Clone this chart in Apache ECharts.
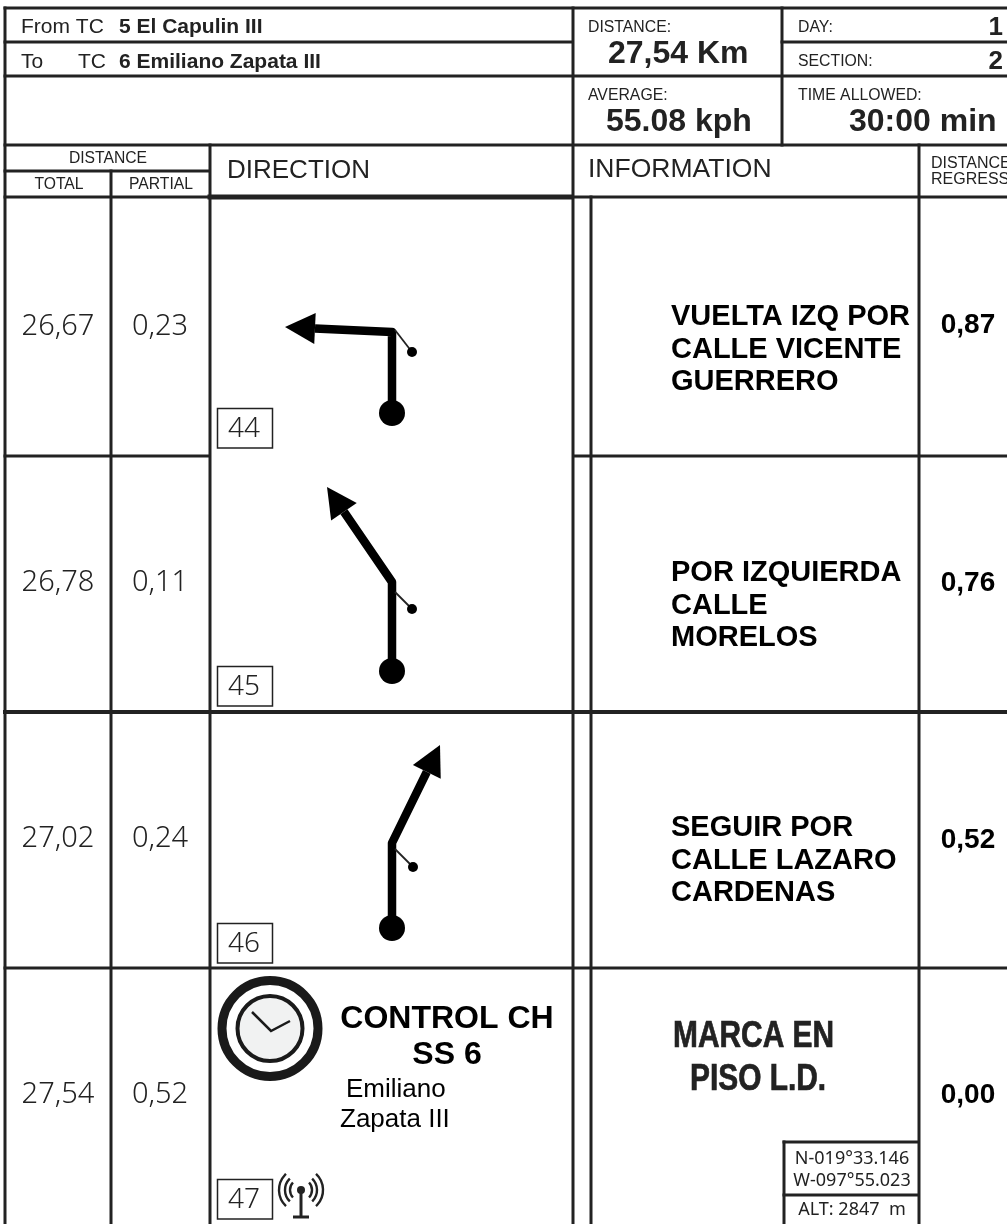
<!DOCTYPE html>
<html><head><meta charset="utf-8">
<style>html,body{margin:0;padding:0;background:#fff}#c{width:1007px;height:1224px}</style>
<script src="https://cdn.jsdelivr.net/npm/echarts@6/dist/echarts.min.js"></script>
</head><body><div id="c"></div>
<script>
// ---- chart values ----
var fromStage = ['From TC', '5 El Capulin III'];
var toStage = ['To', 'TC', '6 Emiliano Zapata III'];
var stageDistance = '27,54 Km';
var stageAverage = '55.08 kph';
var stageTime = '30:00 min';
var stageDay = '1';
var stageSection = '2';
var totals = ['26,67', '26,78', '27,02', '27,54'];
var partials = ['0,23', '0,11', '0,24', '0,52'];
var regress = ['0,87', '0,76', '0,52', '0,00'];
var boxNumbers = ['44', '45', '46', '47'];
var infoLines = [
  ['VUELTA IZQ POR', 'CALLE VICENTE', 'GUERRERO'],
  ['POR IZQUIERDA', 'CALLE', 'MORELOS'],
  ['SEGUIR POR', 'CALLE LAZARO', 'CARDENAS']
];
var exitVectors = [[-107, -5], [-65, -95], [48, -98]];
var stemLengths = [81, 89, 85];
var controlTitle = ['CONTROL CH', 'SS 6'];
var controlPlace = ['Emiliano', 'Zapata III'];
var controlInfo = ['MARCA EN', 'PISO L.D.'];
var gpsLines = ['N-019\u00B033.146', 'W-097\u00B055.023', 'ALT: 2847  m'];

// ---- layout (axis units equal page pixels) ----
var INK = '#222', BLACK = '#000';
var SANS = '"Liberation Sans", Arial, sans-serif', DIGIT = '"Noto Sans", sans-serif';
var colTotal = 58, colPartial = 160, colRegress = 968;
var rowMid = [327, 583, 839, 1095];
var regressMid = [325, 583, 840, 1095];
var infoTop = [317, 573, 828];
var boxTop = [408, 666, 923, 1179];
var stemX = 392, stemBase = [413, 671, 928];
var dotOffset = [[20, 20], [20, 27], [21, 24]];
var thinStart = [-2, 10, 6];

var rules = [
  [5,8,1007,8,3],[5,42,573,42,3],[782,42,1007,42,3],[5,76,1007,76,3],[5,145,1007,145,3],
  [5,171,210,171,3],[5,197,210,197,3],[210,197,573,197,5],[573,197,1007,197,3],
  [5,456,210,456,3],[573,456,1007,456,3],[5,712,1007,712,4],[5,968,1007,968,3],
  [5,8,5,1224,3],[111,171,111,1224,3],[210,145,210,1224,3],[573,8,573,1224,3],
  [591,197,591,1224,3],[782,8,782,145,3],[919,145,919,1224,3],
  [784,1142,919,1142,3],[784,1195,919,1195,3],[784,1142,784,1224,3]
];

var texts = [];
function T(x, y, text, size, opt) {
  opt = opt || {};
  texts.push({x:x, y:y, text:text, size:size, weight:opt.bold?'bold ':(opt.light?'350 ':''), align:opt.align||'left',
    font:opt.font||SANS, color:opt.color||INK, scaleX:opt.scaleX||1, heavy:opt.heavy});
}
T(21,27,fromStage[0],21); T(119,27,fromStage[1],21,{bold:1});
T(21,62,toStage[0],21); T(78,62,toStage[1],21); T(119,62,toStage[2],21,{bold:1});
T(588,28,'DISTANCE:',15.8); T(608,54,stageDistance,32,{bold:1});
T(798,28,'DAY:',15.8); T(1003,28,stageDay,26,{bold:1,align:'right'});
T(798,62,'SECTION:',15.8); T(1003,62,stageSection,26,{bold:1,align:'right'});
T(588,96,'AVERAGE:',15.8); T(606,122,stageAverage,32,{bold:1});
T(798,96,'TIME ALLOWED:',15.8); T(849,122,stageTime,32,{bold:1});
T(108,159,'DISTANCE',15.7,{align:'center'}); T(59,185,'TOTAL',15.7,{align:'center'}); T(161,185,'PARTIAL',15.7,{align:'center'});
T(227,171,'DIRECTION',26); T(588,170,'INFORMATION',26.5);
T(931,164,'DISTANCE',16); T(931,180,'REGRESS',16);
totals.forEach(function(v,i){ T(colTotal,rowMid[i],v,29,{font:DIGIT,align:'center',light:1}); });
partials.forEach(function(v,i){ T(colPartial,rowMid[i],v,29,{font:DIGIT,align:'center',light:1}); });
regress.forEach(function(v,i){ T(colRegress,regressMid[i],v,28,{bold:1,align:'center',color:BLACK}); });
boxNumbers.forEach(function(v,i){ T(244,boxTop[i]+21,v,28,{font:DIGIT,align:'center',light:1}); });
infoLines.forEach(function(lines,i){ lines.forEach(function(l,j){ T(671,infoTop[i]+j*32.5,l,29,{bold:1,color:BLACK}); }); });
T(447,1019,controlTitle[0],32,{bold:1,align:'center',color:BLACK}); T(447,1055,controlTitle[1],32,{bold:1,align:'center',color:BLACK});
T(346,1090,controlPlace[0],26,{color:BLACK}); T(340,1120,controlPlace[1],26,{color:BLACK});
T(673,1037,controlInfo[0],36,{bold:1,scaleX:0.83,heavy:1}); T(690,1080,controlInfo[1],36,{bold:1,scaleX:0.83,heavy:1});
T(852,1159,gpsLines[0],18,{font:DIGIT,align:'center'}); T(852,1181,gpsLines[1],18,{font:DIGIT,align:'center'}); T(852,1210,gpsLines[2],18,{font:DIGIT,align:'center'});

// ---- renderers ----
function pt(api,x,y){ return api.coord([x,y]); }

function renderRule(p, api){
  var r = rules[p.dataIndex], a = pt(api,r[0],r[1]), b = pt(api,r[2],r[3]);
  var e = r[4]/2;
  if (r[0]===r[2]) { a[1]-=e; b[1]+=e; } else if (r[0]!==573) { a[0]-=e; }
  return {type:'line', shape:{x1:a[0],y1:a[1],x2:b[0],y2:b[1]}, style:{stroke:INK,lineWidth:r[4],fill:null}};
}
function renderText(p, api){
  var t = texts[p.dataIndex], a = pt(api,t.x,t.y);
  var st = {x:0,y:0,text:t.text,fill:t.color,align:t.align,verticalAlign:'middle',font:t.weight+t.size+'px '+t.font};
  if (t.heavy) { st.stroke = t.color; st.lineWidth = 0.7; }
  return {type:'text', x:a[0], y:a[1], scaleX:t.scaleX, style:st};
}
function renderTulip(p, api){
  var i = p.dataIndex, v = exitVectors[i], len = stemLengths[i], base = stemBase[i], top = base-len;
  var tipX = stemX+v[0], tipY = top+v[1], m = Math.sqrt(v[0]*v[0]+v[1]*v[1]), ux=v[0]/m, uy=v[1]/m;
  var hx = tipX-ux*30, hy = tipY-uy*30, nx=-uy*15.5, ny=ux*15.5;
  var c = [];
  c.push({type:'polyline',shape:{points:[pt(api,stemX,base),pt(api,stemX,top),pt(api,hx,hy)]},
    style:{stroke:BLACK,lineWidth:8.5,fill:null,lineJoin:'round'}});
  c.push({type:'polygon',shape:{points:[pt(api,tipX,tipY),pt(api,hx+nx,hy+ny),pt(api,hx-nx,hy-ny)]},style:{fill:BLACK}});
  var b = pt(api,stemX,base);
  c.push({type:'circle',shape:{cx:b[0],cy:b[1],r:13},style:{fill:BLACK}});
  var d = dotOffset[i], dp = pt(api,stemX+d[0],top+d[1]);
  c.push({type:'line',shape:{x1:stemX+3,y1:top+thinStart[i],x2:dp[0],y2:dp[1]},style:{stroke:'#222',lineWidth:1.8}});
  c.push({type:'circle',shape:{cx:dp[0],cy:dp[1],r:5},style:{fill:BLACK}});
  return {type:'group',children:c};
}
function renderBox(p, api){
  var a = pt(api,217,boxTop[p.dataIndex]), b = pt(api,272,boxTop[p.dataIndex]+39.5);
  return {type:'rect',shape:{x:a[0]+.5,y:a[1]+.5,width:b[0]-a[0],height:b[1]-a[1]},style:{fill:'#fff',stroke:INK,lineWidth:1.5}};
}
function renderClock(p, api){
  var c = pt(api,270,1028.5);
  return {type:'group',children:[
    {type:'circle',shape:{cx:c[0],cy:c[1],r:48},style:{fill:'#fff',stroke:'#1a1a1a',lineWidth:9}},
    {type:'circle',shape:{cx:c[0],cy:c[1],r:32.5},style:{fill:'#f1f2f2',stroke:'#1a1a1a',lineWidth:4}},
    {type:'polyline',shape:{points:[pt(api,252,1012),pt(api,271,1031),pt(api,290,1021)]},style:{stroke:'#1a1a1a',lineWidth:2.5,fill:null}}
  ]};
}
function renderAntenna(p, api){
  var c = pt(api,301,1190), kids = [];
  [[11,0.75],[16,0.8],[22,0.82]].forEach(function(a){
    kids.push({type:'arc',shape:{cx:c[0],cy:c[1],r:a[0],startAngle:-a[1],endAngle:a[1]},style:{stroke:'#222',lineWidth:2.4,fill:null}});
    kids.push({type:'arc',shape:{cx:c[0],cy:c[1],r:a[0],startAngle:Math.PI-a[1],endAngle:Math.PI+a[1]},style:{stroke:'#222',lineWidth:2.4,fill:null}});
  });
  kids.push({type:'circle',shape:{cx:c[0],cy:c[1],r:4},style:{fill:'#222'}});
  kids.push({type:'line',shape:{x1:c[0],y1:c[1],x2:c[0],y2:c[1]+26},style:{stroke:'#222',lineWidth:3}});
  kids.push({type:'line',shape:{x1:c[0]-8,y1:c[1]+27,x2:c[0]+8,y2:c[1]+27},style:{stroke:'#222',lineWidth:3}});
  return {type:'group',children:kids};
}
function series(data, fn, z){ return {type:'custom',data:data,renderItem:fn,clip:false,silent:true,z:z,animation:false,
  encode:{x:0,y:1}}; }

var chart = echarts.init(document.getElementById('c'), null, {renderer:'canvas'});
chart.setOption({
  animation:false,
  backgroundColor:'#fff',
  tooltip:{show:false},
  grid:{left:0,right:0,top:0,bottom:0},
  xAxis:{type:'value',min:0,max:1007,show:false},
  yAxis:{type:'value',min:0,max:1224,inverse:true,show:false},
  series:[
    series(rules.map(function(r){return [r[0],r[1]];}),renderRule,2),
    series(exitVectors.map(function(v){return [stemX,v[1]];}),renderTulip,3),
    series(boxNumbers.map(function(v,i){return [217,boxTop[i]];}),renderBox,3),
    series([[270,1028]],renderClock,3),
    series([[301,1190]],renderAntenna,3),
    series(texts.map(function(t){return [t.x,t.y];}),renderText,5)
  ]
});
</script></body></html>
